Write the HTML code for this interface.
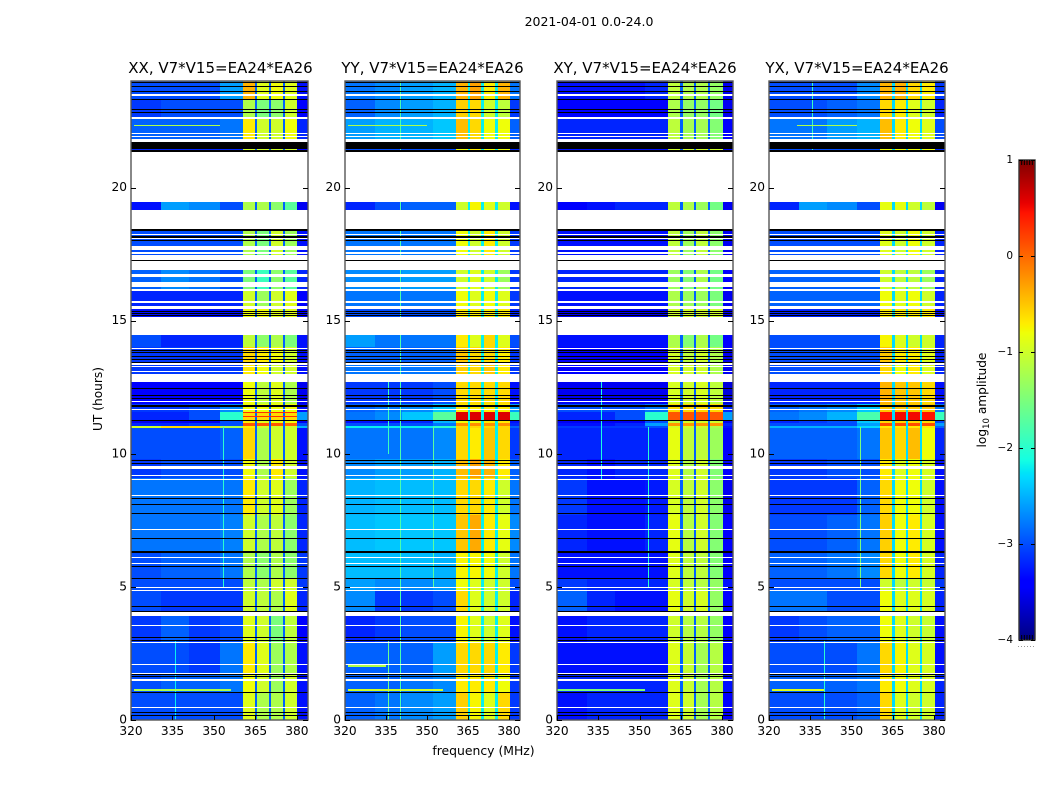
<!DOCTYPE html>
<html lang="en">
<head>
<meta charset="utf-8">
<title>2021-04-01 0.0-24.0</title>
<style>
html,body{margin:0;padding:0;background:#fff;}
svg{display:block;font-family:"DejaVu Sans","Liberation Sans",sans-serif;fill:#000;}
</style>
</head>
<body>
<svg id="chart" xmlns="http://www.w3.org/2000/svg" width="1050" height="800" viewBox="0 0 1050 800">
  <rect x="0" y="0" width="1050" height="800" fill="#fff"/>
  <text x="589" y="26" font-size="12.5" text-anchor="middle">2021-04-01 0.0-24.0</text>
  <text x="483.5" y="755" font-size="12.4" text-anchor="middle">frequency (MHz)</text>
  <text x="102" y="399" font-size="12.2" text-anchor="middle" transform="rotate(-90 102 399)">UT (hours)</text>
  <text x="986" y="400" font-size="12.2" text-anchor="middle" transform="rotate(-90 986 400)">log<tspan font-size="8.5" dy="3">10</tspan><tspan dy="-3"> amplitude</tspan></text>
  <g id="panels"></g>
  <g id="colorbar"></g>
</svg>
<script>
// ---- data ----
const panelTitles = ["XX, V7*V15=EA24*EA26", "YY, V7*V15=EA24*EA26", "XY, V7*V15=EA24*EA26", "YX, V7*V15=EA24*EA26"];
const xTicks = [320, 335, 350, 365, 380];
const yTicks = [0, 5, 10, 15, 20];
const cbTicks = [-4, -3, -2, -1, 0, 1];
const freqEdges = [320, 331, 341, 352, 360.5, 364.9, 365.7, 369.9, 370.7, 375, 375.8, 380.2, 384];
const rowEdges = [0, 1, 1.7, 2.9, 4, 4.9, 5.3, 6.3, 7.7, 9.1, 9.8, 10.97, 11.04, 11.15, 11.28, 11.58, 11.85, 12.7, 13.4, 14, 15.15, 15.5, 16.2, 17.3, 19.15, 19.46, 21.45, 22.6, 23.3, 24];
const gapLevels = [-2.9, -2.2, -2.9, -2.3];
// each row: four low-band levels, four high-band levels, upper edge level (log10 amplitude)
const levelsXX = [
[-3.0,-3.0,-3.0,-3.0,-0.9,-1.2,-1.2,-1.0,-3.3],
[-3.0,-2.9,-2.9,-2.8,-0.8,-1.0,-1.3,-1.0,-3.3],
[-3.0,-3.0,-3.1,-2.8,-0.7,-0.9,-1.3,-1.2,-3.3],
[-3.1,-2.9,-3.1,-3.0,-0.9,-1.0,-1.5,-1.1,-3.4],
[-3.0,-3.1,-3.1,-3.1,-1.0,-1.1,-1.2,-0.9,-3.2],
[-3.0,-3.0,-3.0,-3.0,-1.1,-1.2,-1.0,-1.0,-3.1],
[-3.0,-2.9,-2.9,-2.8,-1.2,-1.4,-1.2,-1.4,-3.1],
[-2.8,-2.8,-2.8,-2.75,-1.0,-1.2,-1.1,-1.4,-3.2],
[-2.8,-2.8,-2.8,-2.8,-0.7,-1.0,-0.9,-1.3,-3.2],
[-3.1,-3.0,-3.0,-3.0,-0.8,-1.2,-0.7,-1.0,-3.3],
[-3.0,-3.0,-3.0,-2.9,-0.6,-1.2,-1.0,-1.0,-3.3],
[-1.0,-0.6,-0.6,-1.2,-0.7,-1.0,-1.0,-1.0,-2.5],
[-3.2,-3.2,-3.1,-3.0,0.1,0.1,0.1,0.0,-3.0],
[-3.5,-3.5,-3.5,-3.0,-0.7,-0.9,-0.8,-0.8,-3.5],
[-3.2,-3.2,-3.0,-2.0,-0.6,-0.6,-0.6,-0.6,-2.6],
[-3.1,-3.1,-3.0,-2.7,-0.8,-0.8,-0.8,-0.8,-3.3],
[-3.4,-3.4,-3.4,-3.4,-0.8,-1.1,-0.9,-1.2,-3.5],
[-3.1,-3.1,-3.1,-3.1,-0.7,-0.8,-1.0,-1.0,-3.3],
[-3.1,-3.1,-3.1,-3.1,-0.6,-0.7,-0.8,-1.0,-3.3],
[-3.0,-3.2,-3.2,-3.2,-1.1,-1.4,-1.2,-1.5,-3.3],
[-3.3,-3.3,-3.3,-3.3,-0.8,-0.8,-0.9,-0.9,-3.4],
[-3.2,-3.2,-3.2,-3.2,-1.0,-1.3,-1.0,-0.9,-3.4],
[-2.9,-2.7,-2.8,-3.0,-1.5,-1.9,-1.4,-1.7,-3.2],
[-3.0,-3.0,-3.0,-3.0,-1.2,-1.5,-1.0,-1.3,-3.3],
[-3.3,-2.6,-2.7,-3.0,-1.2,-1.2,-1.4,-1.7,-3.5],
[-3.2,-3.2,-3.2,-3.2,-1.0,-1.0,-1.0,-1.0,-3.4],
[-2.9,-2.9,-2.9,-2.8,-0.7,-1.0,-1.0,-0.8,-3.2],
[-3.1,-3.0,-3.0,-3.0,-1.2,-1.5,-1.4,-1.0,-3.4],
[-3.0,-3.0,-3.0,-2.6,-0.4,-0.9,-0.8,-0.9,-3.3]];
const levelsYY = [
[-2.9,-2.8,-2.7,-2.6,-0.55,-0.75,-0.9,-0.6,-3.1],
[-2.9,-2.9,-2.8,-2.7,-0.7,-0.7,-0.7,-0.8,-3.1],
[-2.9,-2.9,-2.9,-2.6,-0.6,-0.6,-0.6,-0.7,-3.1],
[-3.2,-3.1,-3.0,-3.0,-0.75,-0.9,-1.0,-0.9,-3.3],
[-2.7,-3.1,-3.1,-3.0,-0.6,-0.9,-1.0,-1.0,-3.2],
[-2.6,-2.7,-2.7,-2.6,-0.8,-0.9,-1.0,-1.0,-3.0],
[-2.45,-2.45,-2.45,-2.5,-0.75,-0.75,-0.8,-1.0,-2.8],
[-2.45,-2.4,-2.4,-2.4,-0.5,-0.35,-0.7,-0.85,-2.7],
[-2.5,-2.45,-2.45,-2.45,-0.6,-0.6,-0.7,-1.0,-2.8],
[-2.7,-2.6,-2.6,-2.5,-0.45,-0.3,-0.4,-0.7,-2.9],
[-2.8,-2.8,-2.8,-2.7,-0.6,-0.7,-0.5,-0.6,-3.1],
[-2.2,-2.2,-2.2,-2.0,-0.6,-0.6,-0.6,-0.6,-2.9],
[-3.0,-3.0,-3.0,-2.8,-0.2,-0.2,-0.2,-0.2,-3.2],
[-3.3,-3.3,-3.2,-2.5,-0.8,-0.8,-0.7,-0.7,-3.3],
[-2.8,-2.7,-2.4,-1.7,0.6,0.6,0.6,0.6,-1.9],
[-2.9,-2.8,-2.7,-2.4,-0.7,-0.7,-0.7,-0.7,-2.6],
[-3.1,-3.1,-3.1,-3.0,-0.6,-0.6,-0.6,-0.6,-3.3],
[-2.8,-2.8,-2.8,-2.8,-0.55,-0.6,-0.5,-0.7,-3.1],
[-2.9,-2.9,-2.9,-2.9,-0.5,-0.6,-0.6,-0.7,-3.1],
[-2.6,-2.8,-2.8,-2.8,-0.7,-0.9,-0.6,-0.9,-3.0],
[-3.0,-3.0,-3.0,-3.0,-0.7,-0.7,-0.7,-0.7,-3.2],
[-2.8,-2.8,-2.8,-2.8,-0.8,-0.9,-0.8,-0.9,-3.1],
[-2.7,-2.7,-2.6,-2.6,-1.0,-0.9,-1.0,-1.3,-3.1],
[-2.8,-2.8,-2.8,-2.8,-0.8,-1.0,-0.7,-1.0,-3.1],
[-3.2,-3.0,-2.9,-2.9,-1.0,-0.75,-0.9,-1.0,-3.3],
[-3.0,-3.0,-3.0,-3.0,-0.8,-0.7,-0.8,-0.8,-3.2],
[-2.6,-2.5,-2.5,-2.4,-0.45,-0.6,-0.8,-0.8,-2.9],
[-2.9,-2.7,-2.6,-2.5,-0.55,-0.6,-1.0,-1.1,-3.1],
[-2.8,-2.7,-2.6,-2.5,-0.4,-0.3,-0.7,-0.4,-2.8]];
const levelsXY = [
[-3.3,-3.2,-3.2,-3.2,-0.9,-1.0,-1.25,-1.15,-3.4],
[-3.2,-3.2,-3.2,-3.2,-0.9,-1.05,-1.25,-1.15,-3.3],
[-3.3,-3.3,-3.3,-3.3,-0.9,-1.05,-1.25,-1.15,-3.4],
[-3.3,-3.2,-3.2,-3.2,-1.0,-1.15,-1.15,-1.35,-3.4],
[-2.9,-3.2,-3.3,-3.3,-0.85,-1.0,-0.95,-1.35,-3.4],
[-3.1,-3.2,-3.2,-3.2,-0.95,-1.1,-1.15,-1.35,-3.3],
[-3.3,-3.3,-3.3,-3.3,-0.9,-1.1,-1.1,-1.45,-3.4],
[-3.2,-3.3,-3.3,-3.2,-0.85,-1.15,-1.0,-1.45,-3.4],
[-3.1,-3.3,-3.3,-3.25,-0.95,-1.1,-1.0,-1.4,-3.5],
[-3.2,-3.3,-3.2,-3.2,-0.9,-1.15,-1.0,-1.45,-3.4],
[-3.2,-3.2,-3.2,-3.2,-0.85,-1.1,-1.1,-1.3,-3.4],
[-3.1,-3.1,-3.1,-3.0,-0.95,-1.0,-1.0,-1.2,-3.3],
[-3.3,-3.3,-3.2,-2.6,-0.25,-0.25,-0.25,-0.25,-3.2],
[-3.5,-3.5,-3.5,-3.0,-1.1,-1.0,-1.0,-1.0,-3.5],
[-3.2,-3.2,-3.0,-2.0,0.1,0.1,0.1,0.1,-2.6],
[-3.0,-3.0,-3.0,-2.8,-0.6,-0.6,-0.6,-0.6,-3.2],
[-3.5,-3.5,-3.5,-3.5,-0.95,-1.0,-0.95,-1.1,-3.6],
[-3.4,-3.4,-3.4,-3.4,-0.95,-1.0,-1.0,-1.2,-3.5],
[-3.4,-3.4,-3.4,-3.4,-1.0,-1.1,-1.0,-1.2,-3.5],
[-3.3,-3.3,-3.3,-3.3,-1.2,-1.45,-1.2,-1.55,-3.4],
[-3.5,-3.5,-3.5,-3.5,-1.0,-1.0,-1.0,-1.0,-3.5],
[-3.3,-3.3,-3.3,-3.3,-1.2,-1.3,-1.3,-1.5,-3.5],
[-3.2,-3.2,-3.2,-3.2,-1.3,-1.45,-1.2,-1.55,-3.4],
[-3.3,-3.3,-3.3,-3.3,-1.1,-1.3,-1.1,-1.4,-3.5],
[-3.4,-3.3,-3.2,-3.2,-1.1,-1.2,-1.3,-1.55,-3.5],
[-3.3,-3.3,-3.3,-3.3,-1.0,-1.0,-1.0,-1.0,-3.4],
[-3.2,-3.2,-3.2,-3.2,-1.1,-1.25,-1.25,-1.45,-3.4],
[-3.4,-3.4,-3.4,-3.4,-1.2,-1.35,-1.35,-1.55,-3.5],
[-3.3,-3.3,-3.3,-3.2,-1.1,-1.2,-1.2,-1.35,-3.5]];
const levelsYX = [
[-3.0,-3.0,-3.0,-2.9,-0.6,-0.9,-1.0,-1.0,-3.2],
[-2.9,-2.9,-2.9,-2.8,-0.7,-0.8,-0.9,-0.95,-3.2],
[-3.0,-3.0,-3.0,-2.8,-0.6,-0.75,-0.9,-0.95,-3.3],
[-3.1,-3.0,-2.9,-2.9,-0.8,-0.9,-1.0,-1.05,-3.3],
[-2.8,-2.8,-3.0,-3.0,-0.8,-0.9,-0.9,-0.95,-3.2],
[-3.0,-3.0,-3.0,-3.0,-1.0,-1.1,-1.0,-1.05,-3.1],
[-2.9,-2.9,-2.8,-2.7,-0.6,-0.8,-0.7,-0.95,-3.2],
[-3.0,-3.0,-2.9,-2.8,-0.55,-0.8,-0.7,-0.95,-3.3],
[-3.1,-3.1,-3.1,-2.9,-0.6,-0.8,-0.8,-1.0,-3.3],
[-3.1,-3.1,-3.0,-3.0,-0.7,-0.9,-0.8,-0.95,-3.3],
[-2.9,-2.9,-2.9,-2.8,-0.5,-0.6,-0.45,-0.8,-3.2],
[-2.5,-2.5,-2.5,-2.3,-0.7,-0.7,-0.7,-0.7,-2.9],
[-3.0,-3.0,-3.0,-2.6,0.15,0.15,0.15,0.15,-2.6],
[-3.2,-3.1,-3.0,-2.4,-0.6,-0.6,-0.6,-0.6,-3.0],
[-2.8,-2.7,-2.5,-1.8,0.45,0.5,0.5,0.45,-1.9],
[-2.9,-2.8,-2.7,-2.4,-0.5,-0.5,-0.5,-0.5,-2.8],
[-3.2,-3.2,-3.2,-3.2,-0.4,-0.5,-0.5,-0.6,-3.3],
[-3.0,-3.0,-3.0,-3.0,-0.6,-0.8,-0.7,-0.9,-3.2],
[-3.0,-3.0,-3.0,-3.0,-0.5,-0.7,-0.7,-0.9,-3.2],
[-3.0,-3.0,-3.0,-3.0,-0.75,-0.9,-1.0,-1.0,-3.2],
[-3.2,-3.2,-3.2,-3.2,-0.7,-0.7,-0.7,-0.7,-3.3],
[-2.9,-2.9,-2.9,-2.9,-0.8,-0.9,-0.8,-1.0,-3.2],
[-2.9,-2.9,-2.9,-2.9,-1.0,-1.1,-1.1,-1.3,-3.2],
[-3.0,-3.0,-3.0,-3.0,-0.9,-1.0,-0.8,-1.0,-3.2],
[-3.2,-2.6,-2.7,-3.0,-0.85,-0.85,-1.0,-1.1,-3.5],
[-3.0,-3.0,-3.0,-3.0,-0.8,-0.8,-0.8,-0.8,-3.2],
[-2.8,-2.8,-2.6,-2.5,-0.45,-0.7,-0.8,-0.9,-3.0],
[-3.0,-3.0,-2.9,-2.8,-0.6,-0.7,-0.9,-1.0,-3.2],
[-3.0,-3.0,-3.0,-2.7,-0.4,-0.4,-0.6,-0.7,-3.1]];
// narrow-band interference: panel, frequency, start hour, end hour, level
const rfiPanel = [0, 0, 1, 1, 1, 1, 2, 2, 3, 3, 3];
const rfiFreq = [336, 353.3, 340, 335.8, 352, 335.8, 353.2, 336, 335.7, 353, 340];
const rfiStart = [0, 5, 0, 10, 5, 0, 5, 9, 20, 5, 0];
const rfiEnd = [3, 11, 24, 13, 11, 3, 11, 13, 24, 11, 3];
const rfiLevel = [-2.2, -2.0, -1.8, -1.9, -1.7, -1.6, -2.0, -2.1, -1.9, -1.5, -2.0];
// interference rows: panel, start frequency, end frequency, hour, level
const lineRowPanel = [0, 0, 0, 0, 0, 1, 1, 1, 2, 2, 3, 3, 3];
const lineRowF0 = [321, 321, 321, 360.5, 360.5, 321, 321, 321, 320, 320, 321, 321, 330];
const lineRowF1 = [340, 356, 352, 380.2, 380.2, 335, 356, 350, 332, 352, 345, 340, 352];
const lineRowHour = [2.05, 1.1, 22.3, 11.53, 11.38, 2.0, 1.1, 22.3, 2.05, 1.1, 2.05, 1.1, 22.3];
const lineRowLevel = [-0.9, -1.2, -1.2, 0.3, 0.3, -1.2, -1.0, -1.2, 0.0, -1.5, -1.2, -0.9, -1.2];
// flagged (no data) spans in hours: [low, high]
const whiteSpans = [[23.45,23.53],[22.58,22.63],[22.01,22.06],[21.91,21.95],[21.72,21.84],[19.46,21.33],[18.44,19.15],[18.21,18.27],[18.06,18.10],[17.65,17.81],[17.52,17.56],[17.29,17.48],[16.92,17.24],[16.62,16.75],[16.27,16.46],[16.11,16.18],[15.68,15.72],[15.45,15.55],[14.46,15.15],[13.93,13.98],[13.34,13.39],[13.25,13.29],[13.06,13.11],[12.70,12.99],[11.96,12.00],[11.65,11.69],[9.44,9.54],[9.15,9.19],[9.02,9.06],[8.40,8.44],[7.14,7.18],[6.07,6.11],[5.85,5.89],[4.97,5.01],[4.85,4.89],[3.91,4.05],[3.54,3.58],[2.90,2.94],[2.07,2.11],[1.73,1.77],[1.46,1.55],[0.46,0.50]];
const blackSpans = [[23.94,23.97],[23.80,23.83],[23.58,23.61],[23.30,23.33],[22.90,22.94],[22.81,22.84],[21.44,21.71],[21.33,21.39],[18.37,18.43],[18.12,18.16],[17.99,18.02],[17.24,17.29],[15.33,15.36],[15.26,15.29],[15.18,15.21],[13.88,13.91],[13.80,13.83],[13.63,13.66],[13.51,13.54],[13.42,13.45],[12.45,12.48],[12.19,12.22],[12.07,12.10],[11.76,11.82],[11.23,11.26],[9.71,9.76],[9.63,9.66],[8.32,8.35],[8.10,8.13],[7.75,7.78],[6.81,6.84],[6.29,6.35],[5.77,5.80],[5.30,5.33],[4.24,4.27],[4.06,4.09],[3.08,3.11],[2.95,3.00],[1.70,1.73],[1.62,1.65],[1.04,1.07],[0.28,0.31],[0.15,0.18]];

// ---- layout ----
const panelX0 = [131, 345, 557, 769];
const panelX1 = [308, 520, 733, 945];
const plotTop = 81, plotBottom = 720;
const cbLeft = 1019, cbRight = 1035, cbTop = 160, cbBottom = 640;
const NS = "http://www.w3.org/2000/svg";
const allLevels = [levelsXX, levelsYY, levelsXY, levelsYX];

function xScale(p, f) { return panelX0[p] + (f - 320) / 64 * (panelX1[p] - panelX0[p]); }
function yScale(h) { return plotBottom - h / 24 * (plotBottom - plotTop); }
function cbScale(v) { return cbBottom - (v + 4) / 5 * (cbBottom - cbTop); }
function clamp(v) { return Math.max(0, Math.min(1, v)); }
function jet(v) {
  const x = clamp((v + 4) / 5);
  const r = x < 0.35 ? 0 : x < 0.66 ? (x - 0.35) / 0.31 : x < 0.89 ? 1 : 1 - 0.5 * (x - 0.89) / 0.11;
  const g = x < 0.125 ? 0 : x < 0.375 ? (x - 0.125) / 0.25 : x < 0.64 ? 1 : x < 0.91 ? 1 - (x - 0.64) / 0.27 : 0;
  const b = x < 0.11 ? 0.5 + 0.5 * x / 0.11 : x < 0.34 ? 1 : x < 0.65 ? 1 - (x - 0.34) / 0.31 : 0;
  return "rgb(" + Math.round(r * 255) + "," + Math.round(g * 255) + "," + Math.round(b * 255) + ")";
}
function el(tag, attrs, parent) {
  const n = document.createElementNS(NS, tag);
  for (const k in attrs) n.setAttribute(k, attrs[k]);
  parent.appendChild(n);
  return n;
}
function spanRect(parent, p, f0, f1, hLow, hHigh, fill) {
  const x = Math.round(xScale(p, f0)), xe = Math.round(xScale(p, f1));
  const y = Math.round(yScale(hHigh)), ye = Math.round(yScale(hLow));
  return el("rect", {x: x, y: y, width: Math.max(1, xe - x), height: Math.max(1, ye - y), fill: fill, "shape-rendering": "crispEdges"}, parent);
}

const panelsRoot = document.getElementById("panels");
panelTitles.forEach(function (title, p) {
  const g = el("g", {}, panelsRoot);
  
  
  const heat = el("g", {}, g);
  
  

  // heatmap cells: column index maps to four low, then band/gap alternation, then edge
  const rows = allLevels[p];
  rows.forEach(function (row, r) {
    const colVals = [row[0], row[1], row[2], row[3], row[4], gapLevels[p], row[5], gapLevels[p], row[6], gapLevels[p], row[7], row[8]];
    colVals.forEach(function (v, c) {
      const cell = spanRect(heat, p, freqEdges[c], freqEdges[c + 1], rowEdges[r], rowEdges[r + 1], jet(v));
      
      
    });
  });

  // narrow interference columns and rows
  rfiPanel.forEach(function (q, i) {
    if (q !== p) return;
    const f = rfiFreq[i];
    const line = spanRect(heat, p, f, f + 0.3, rfiStart[i], rfiEnd[i], jet(rfiLevel[i]));
    
    
  });
  lineRowPanel.forEach(function (q, i) {
    if (q !== p) return;
    const line = spanRect(heat, p, lineRowF0[i], lineRowF1[i], lineRowHour[i], lineRowHour[i] + 0.05, jet(lineRowLevel[i]));
    
    
  });

  // flagged spans
  whiteSpans.forEach(function (s) {
    const band = spanRect(heat, p, 320, 384, s[0], s[1], "#fff");
    
    
  });
  blackSpans.forEach(function (s) {
    const band = spanRect(heat, p, 320, 384, s[0], s[1], "#000");
    
    
  });

  // frame
  const frame = el("rect", {x: panelX0[p], y: plotTop, width: panelX1[p] - panelX0[p], height: plotBottom - plotTop, fill: "none", stroke: "#555", "stroke-width": 1.4}, g);
  
  

  // x ticks
  xTicks.forEach(function (t) {
    const x = Math.round(xScale(p, t)) + 0.5;
    const tick = el("line", {x1: x, x2: x, y1: plotBottom, y2: plotBottom - 5, stroke: "#000", "stroke-width": 1}, g);
    
    
    const lab = el("text", {x: xScale(p, t), y: 735, "font-size": 12.2, "text-anchor": "middle"}, g);
    lab.textContent = t;
    
    
  });
  // y ticks
  yTicks.forEach(function (t) {
    const y = Math.round(yScale(t)) + 0.5;
    [[panelX0[p], panelX0[p] + 5], [panelX1[p] - 5, panelX1[p]]].forEach(function (pair) {
      const tick = el("line", {x1: pair[0], x2: pair[1], y1: y, y2: y, stroke: "#000", "stroke-width": 1}, g);
      
      
    });
    const lab = el("text", {x: panelX0[p] - 4, y: yScale(t) + 3.5, "font-size": 12.2, "text-anchor": "end"}, g);
    lab.textContent = t;
    
    
  });
  // title
  const tl = el("text", {x: (panelX0[p] + panelX1[p]) / 2 + (p === 0 ? 1 : 0), y: 73, "font-size": 15, "text-anchor": "middle"}, g);
  tl.textContent = title;
  
  
});

// ---- colorbar ----
const cb = document.getElementById("colorbar");
for (let py = cbTop; py < cbBottom; py++) {
  const v = -4 + (cbBottom - py - 0.5) / (cbBottom - cbTop) * 5;
  const strip = el("rect", {x: cbLeft, y: py, width: cbRight - cbLeft, height: 1, fill: jet(v), "shape-rendering": "crispEdges"}, cb);
  
  
}
const cbFrame = el("rect", {x: cbLeft, y: cbTop, width: cbRight - cbLeft, height: cbBottom - cbTop, fill: "none", stroke: "#333", "stroke-width": 1.4}, cb);


cbTicks.forEach(function (t) {
  const y = Math.round(cbScale(t)) + 0.5;
  [[cbLeft, cbLeft + 4], [cbRight - 4, cbRight]].forEach(function (pair) {
    const tick = el("line", {x1: pair[0], x2: pair[1], y1: y, y2: y, stroke: "#000", "stroke-width": 1}, cb);
    
    
  });
  const lab = el("text", {x: cbLeft - 6, y: cbScale(t) + 3, "font-size": 10.5, "text-anchor": "end"}, cb);
  lab.textContent = t < 0 ? "\u2212" + Math.abs(t) : String(t);
  
  
});
for (let i = 1; i <= 5; i++) {
  const x = cbLeft + i * (cbRight - cbLeft) / 6;
  [[cbTop, cbTop + 5], [cbBottom - 5, cbBottom]].forEach(function (pair) {
    const tick = el("line", {x1: x, x2: x, y1: pair[0], y2: pair[1], stroke: "#000", "stroke-width": 1}, cb);
    
    
  });
}
for (let i = 0; i < 6; i++) {
  const dot = el("rect", {x: 1018 + i * 3, y: 646, width: 1, height: 1, fill: "#999"}, cb);
  
  
}
</script>
</body>
</html>
